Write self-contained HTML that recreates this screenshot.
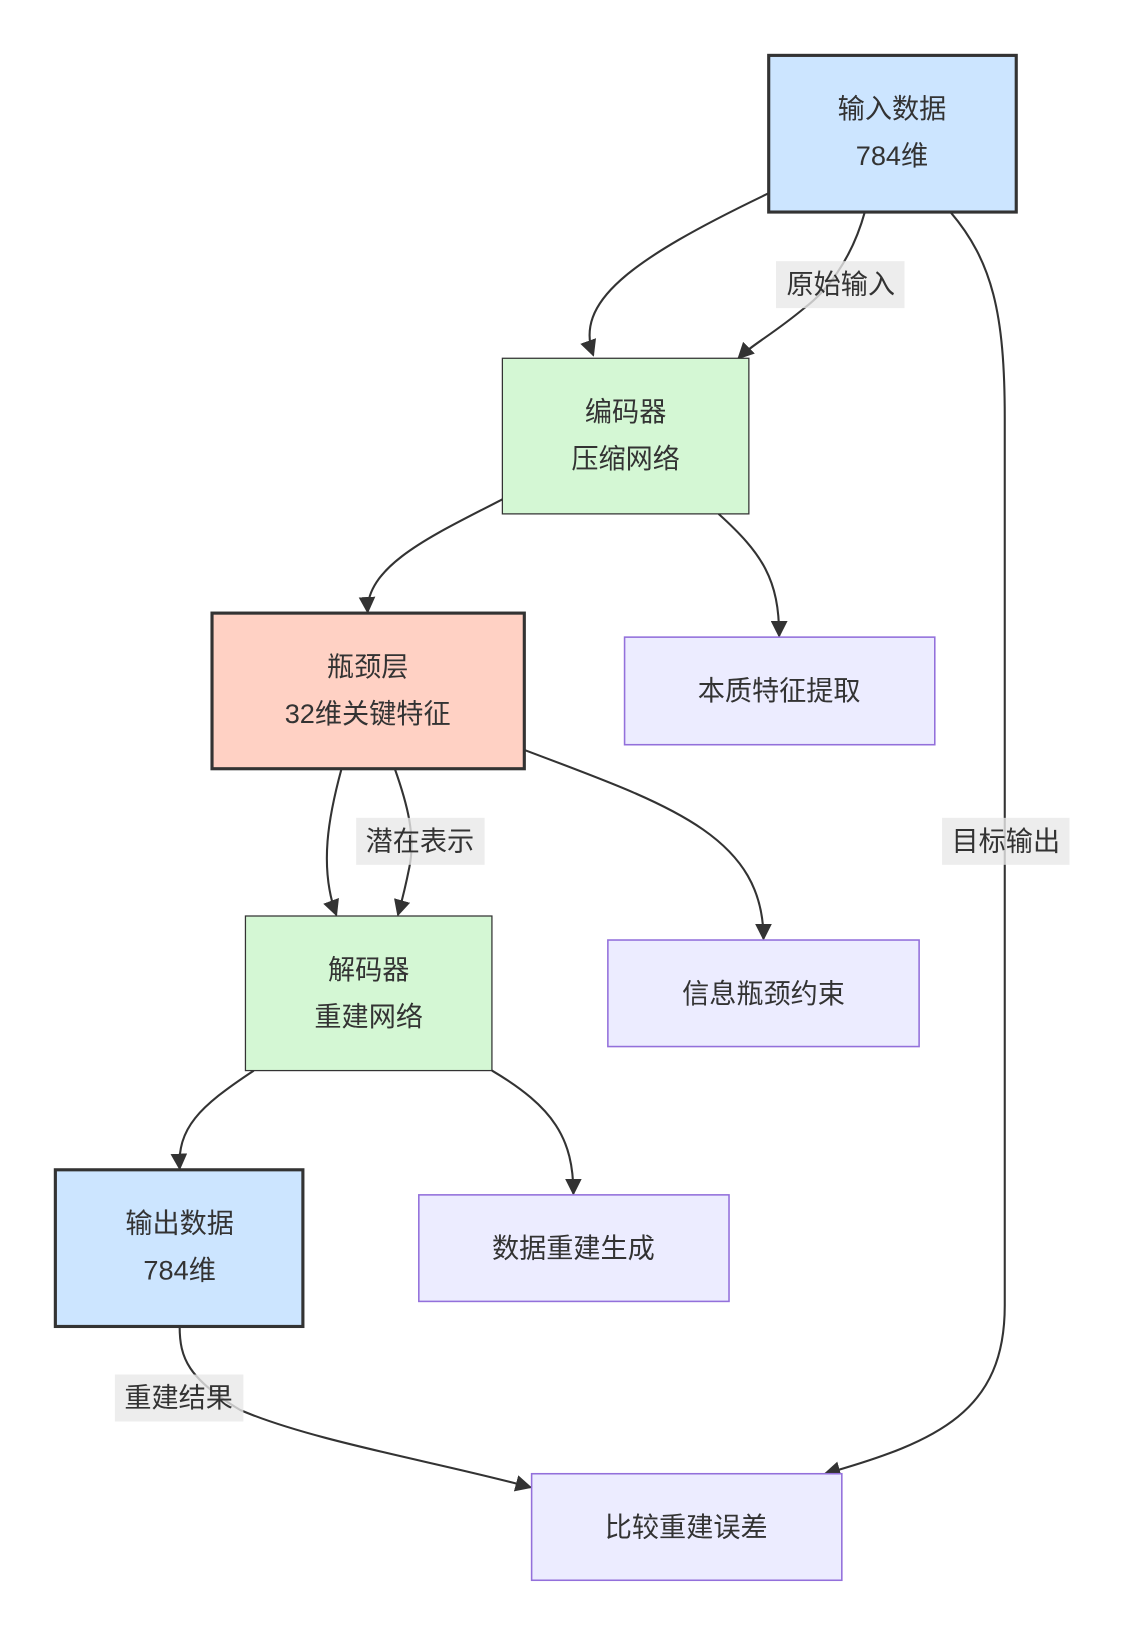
<!DOCTYPE html>
<html><head><meta charset="utf-8"><style>
html,body{margin:0;padding:0;background:#fff;}
svg{display:block;}
text{font-family:"Liberation Sans","Noto Sans CJK SC",sans-serif;fill:#333;font-size:26px;text-anchor:middle;dominant-baseline:central;}
</style></head><body>
<svg width="1128" height="1644" viewBox="0 0 1080 1574" xmlns="http://www.w3.org/2000/svg">
<defs><marker id="a" viewBox="0 0 10 10" refX="9" refY="5" markerWidth="7" markerHeight="7" orient="auto-start-reverse" markerUnits="userSpaceOnUse"><path d="M0,0 L10,5 L0,10 z" fill="#333"/></marker>
<marker id="b" viewBox="0 0 10 10" refX="9" refY="5" markerWidth="16" markerHeight="16" orient="auto" markerUnits="userSpaceOnUse"><path d="M0,0 L10,5 L0,10 z" fill="#333"/></marker></defs>
<g fill="none" stroke="#333" stroke-width="2">
<path d="M736,185 C600,250 550,290 568,340" marker-end="url(#b)"/>
<path d="M828,203 C815,250 790,280 770,295 C740,320 720,330 707,343" marker-end="url(#b)"/>
<path d="M910,203 C950,250 962,300 962,400 L962,1250 C962,1350 900,1380 790,1411" marker-end="url(#b)"/>
<path d="M481,478 C420,510 350,540 352,586" marker-end="url(#b)"/>
<path d="M688,492 C730,530 746,555 746,609" marker-end="url(#b)"/>
<path d="M327,736 C315,780 305,830 322,876" marker-end="url(#b)"/>
<path d="M378,736 C390,770 398,800 392,830 C388,850 385,862 381,876" marker-end="url(#b)"/>
<path d="M502,718 C640,770 731,800 731,899" marker-end="url(#b)"/>
<path d="M243,1025 C190,1060 170,1080 172,1119" marker-end="url(#b)"/>
<path d="M471,1025 C530,1060 549,1090 549,1143" marker-end="url(#b)"/>
<path d="M172,1270 C172,1300 180,1320 230,1350 C300,1380 420,1400 508,1424" marker-end="url(#b)"/>
</g>
<rect x="736" y="53" width="237" height="150" fill="#cce5ff" stroke="#333" stroke-width="3"/>
<text x="854" y="104">输入数据</text><text x="854" y="149">784维</text>
<rect x="481" y="343" width="236" height="149" fill="#d4f7d4" stroke="#333" stroke-width="1.2"/>
<text x="599" y="394">编码器</text><text x="599" y="439">压缩网络</text>
<rect x="203" y="587" width="299" height="149" fill="#ffd1c4" stroke="#333" stroke-width="3"/>
<text x="352" y="638">瓶颈层</text><text x="352" y="683">32维关键特征</text>
<rect x="598" y="610" width="297" height="103" fill="#ececff" stroke="#9370db" stroke-width="1.5"/>
<text x="746" y="661">本质特征提取</text>
<rect x="235" y="877" width="236" height="148" fill="#d4f7d4" stroke="#333" stroke-width="1.2"/>
<text x="353" y="928">解码器</text><text x="353" y="973">重建网络</text>
<rect x="582" y="900" width="298" height="102" fill="#ececff" stroke="#9370db" stroke-width="1.5"/>
<text x="731" y="951">信息瓶颈约束</text>
<rect x="53" y="1120" width="237" height="150" fill="#cce5ff" stroke="#333" stroke-width="3"/>
<text x="172" y="1171">输出数据</text><text x="172" y="1216">784维</text>
<rect x="401" y="1144" width="297" height="102" fill="#ececff" stroke="#9370db" stroke-width="1.5"/>
<text x="549" y="1195">数据重建生成</text>
<rect x="509" y="1411" width="297" height="102" fill="#ececff" stroke="#9370db" stroke-width="1.5"/>
<text x="657" y="1462">比较重建误差</text>
<rect x="743" y="250" width="123" height="45" fill="#e8e8e8" opacity="0.8"/><text x="805" y="272">原始输入</text>
<rect x="902" y="783" width="122" height="45" fill="#e8e8e8" opacity="0.8"/><text x="963" y="805">目标输出</text>
<rect x="341" y="783" width="123" height="45" fill="#e8e8e8" opacity="0.8"/><text x="402" y="805">潜在表示</text>
<rect x="110" y="1316" width="123" height="45" fill="#e8e8e8" opacity="0.8"/><text x="171" y="1338">重建结果</text>
</svg>
</body></html>
